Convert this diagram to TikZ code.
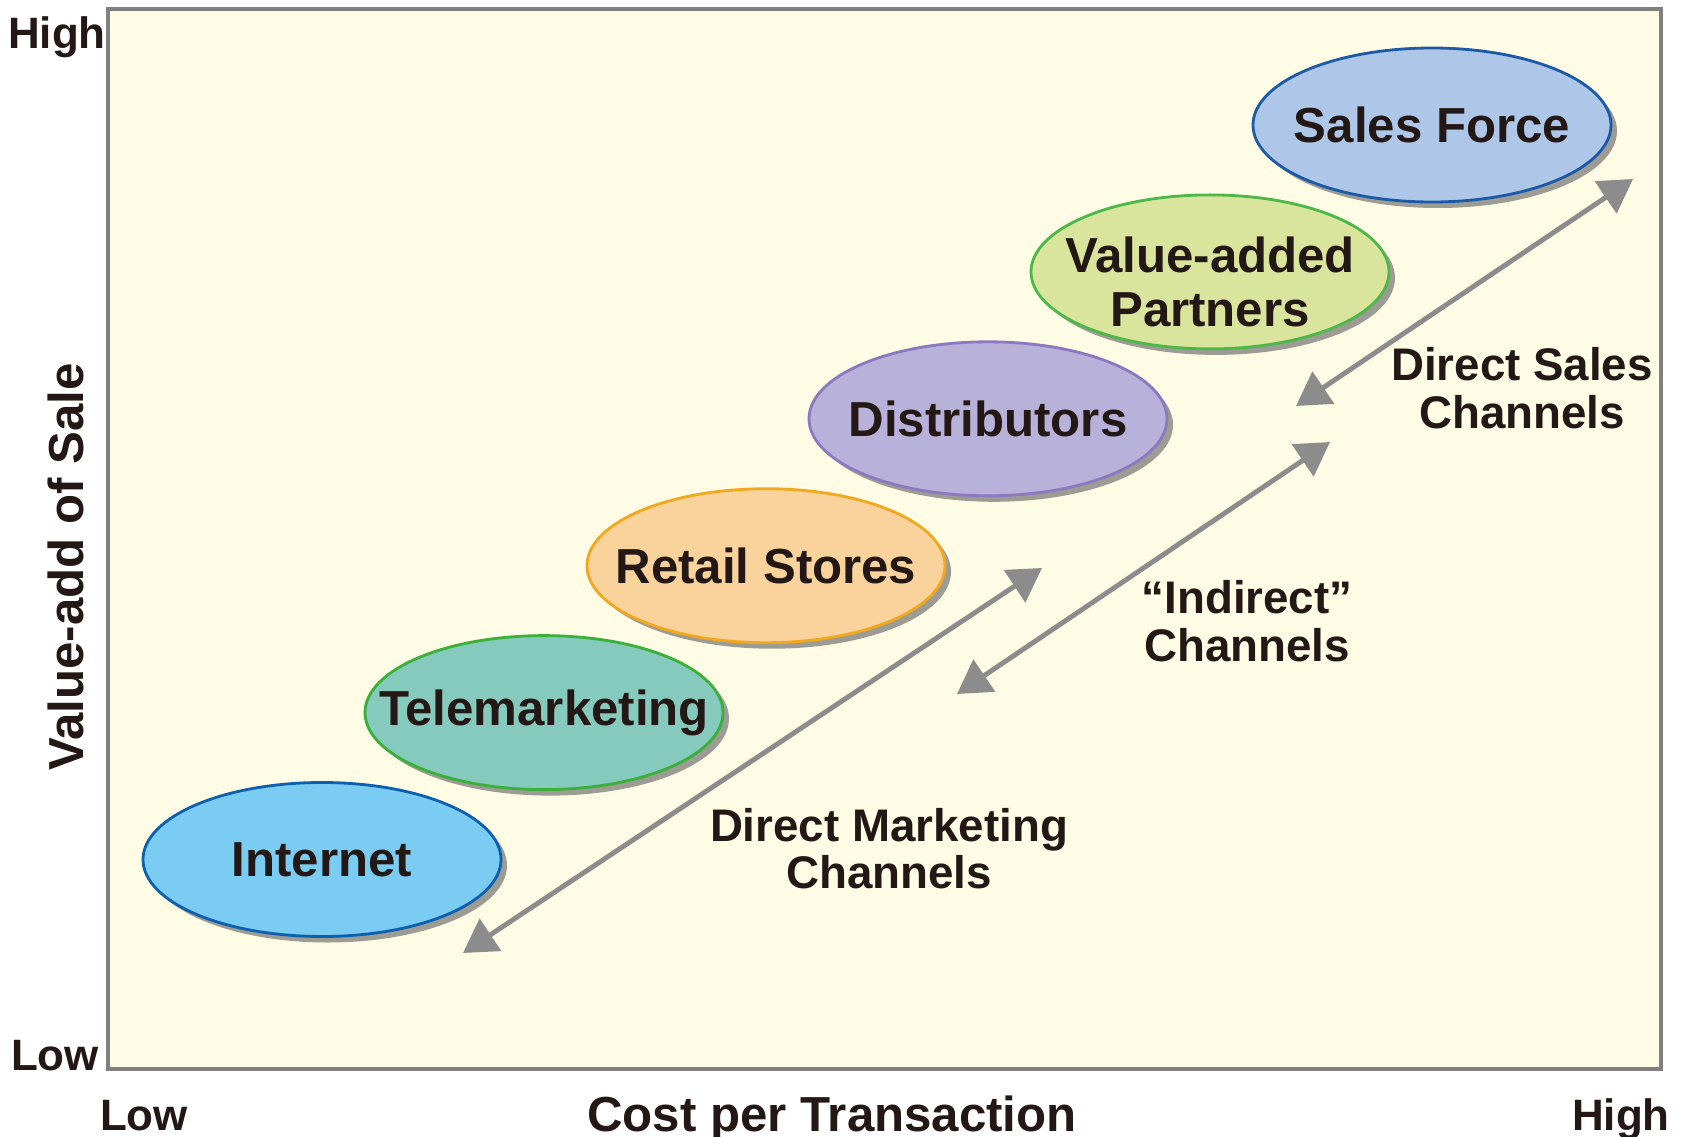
\documentclass[tikz,border=0pt]{standalone}
\usepackage{fontspec}
\setmainfont{Liberation Sans}
\usetikzlibrary{shapes.geometric,shadows,arrows.meta}

\definecolor{ink}{RGB}{35,24,21}
\definecolor{paper}{RGB}{255,252,229}
\definecolor{framegray}{RGB}{128,128,128}
\definecolor{arrowgray}{RGB}{140,140,140}
\definecolor{shade}{RGB}{157,156,148}

\tikzset{
	chan/.style={ellipse, draw, line width=0.8pt, minimum width=3.58cm, minimum height=1.54cm,
		inner xsep=-1cm, inner ysep=-0.3cm, align=center, text=ink, font=\fontsize{14}{15.5}\selectfont\bfseries,
		drop shadow={shadow xshift=0.06cm, shadow yshift=-0.06cm, fill=shade, opacity=1}},
	dbl/.style={{Triangle[length=3.3mm,width=3.8mm]}-{Triangle[length=3.3mm,width=3.8mm]},
		line width=1.4pt, draw=arrowgray},
	lbl/.style={align=center, text=ink, font=\fontsize{13}{13.5}\selectfont\bfseries},
	ax/.style={inner sep=0pt, text=ink, font=\fontsize{12.5}{13}\selectfont\bfseries}
}

\begin{document}
\begin{tikzpicture}
	%%%%% START %%%%%
	\useasboundingbox (0, 0) rectangle (16.82, 11.36);
	
	\draw[fill=paper, draw=framegray, line width=0.9pt] (1.08, 0.67) rectangle (16.61, 11.27);
	
	% channels
	\node[chan, fill={rgb,255:red,122;green,204;blue,242}, draw={rgb,255:red,13;green,95;blue,175}] (inet) at (3.22, 2.765) {Internet};
	\node[chan, fill={rgb,255:red,133;green,202;blue,188}, draw={rgb,255:red,58;green,175;blue,58}] (tele) at (5.44, 4.234) {Telemarketing};
	\node[chan, fill={rgb,255:red,249;green,211;blue,155}, draw={rgb,255:red,242;green,168;blue,29}] (retail) at (7.66, 5.703) {Retail Stores};
	\node[chan, fill={rgb,255:red,184;green,178;blue,218}, draw={rgb,255:red,139;green,121;blue,192}] (dist) at (9.88, 7.172) {Distributors};
	\node[chan, fill={rgb,255:red,217;green,228;blue,156}, draw={rgb,255:red,76;green,184;blue,72}] (vap) at (12.10, 8.641) {\rule{0pt}{0.56cm}Value-added\\Partners};
	\node[chan, fill={rgb,255:red,174;green,199;blue,232}, draw={rgb,255:red,28;green,90;blue,168}] (sales) at (14.32, 10.11) {Sales Force};
	
	% arrows
	\coordinate (dmlo) at (4.63, 1.83);
	\coordinate (dmhi) at (10.42, 5.68);
	\coordinate (indlo) at (9.57, 4.42);
	\coordinate (indhi) at (13.30, 6.94);
	\coordinate (dslo) at (12.96, 7.30);
	\coordinate (dshi) at (16.33, 9.57);
	\draw[dbl] (dmlo) -- (dmhi);
	\draw[dbl] (indlo) -- (indhi);
	\draw[dbl] (dslo) -- (dshi);
	
	\node[lbl] (dmtext) at (8.89, 2.875) {Direct Marketing\\Channels};
	\node[lbl] (indtext) at (12.47, 5.15) {“Indirect”\\Channels};
	\node[lbl] (dstext) at (15.22, 7.48) {Direct Sales\\Channels};
	
	% axes
	\node[ax, anchor=base] (yhigh) at (0.57, 10.88) {High};
	\node[ax, anchor=base] (ylow) at (0.55, 0.66) {Low};
	\node[ax, anchor=base] (xlow) at (1.44, 0.06) {Low};
	\node[ax, anchor=base] (xhigh) at (16.21, 0.06) {High};
	\node[inner sep=0pt, anchor=base, text=ink, font=\fontsize{14}{15}\selectfont\bfseries] (xtitle) at (8.32, 0.05) {Cost per Transaction};
	\node[inner sep=0pt, anchor=base, rotate=90, text=ink, font=\fontsize{14}{15}\selectfont\bfseries] (ytitle) at (0.83, 5.69) {Value-add of Sale};
	
	%%%%% END %%%%%
\end{tikzpicture}
\end{document}
